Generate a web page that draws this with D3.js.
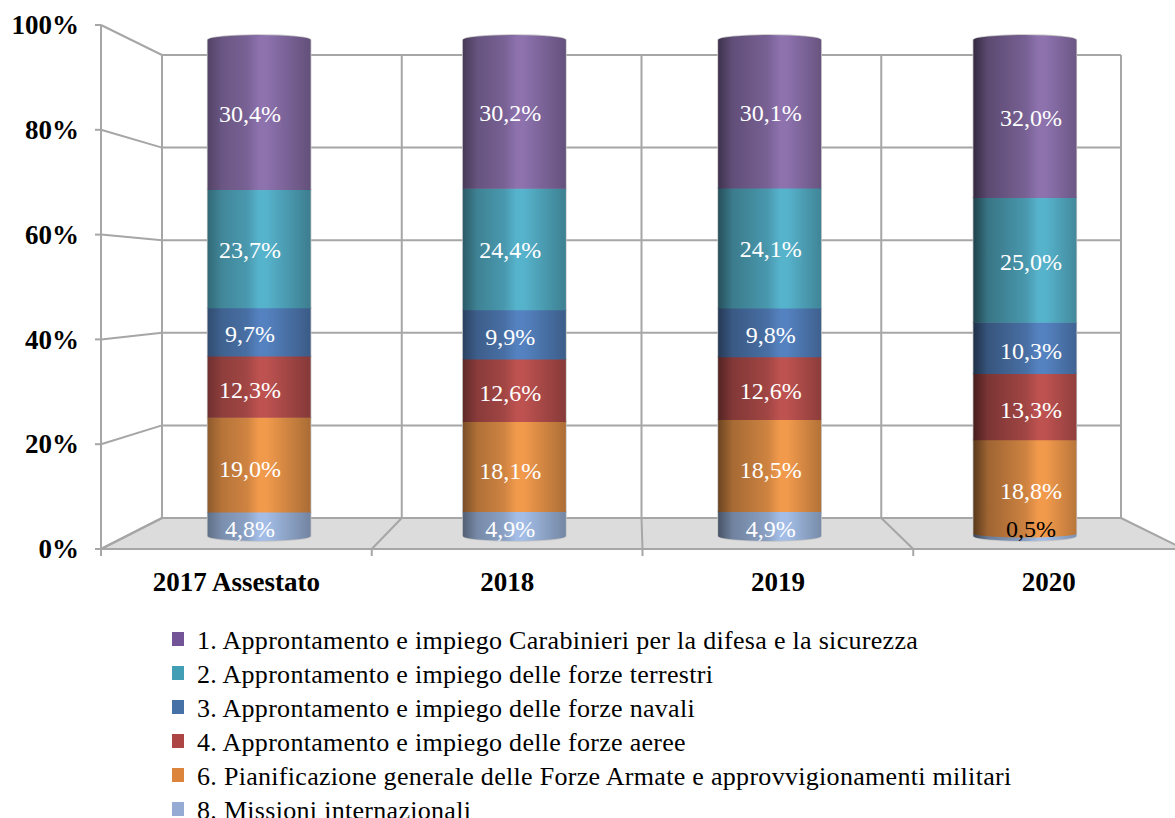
<!DOCTYPE html>
<html><head><meta charset="utf-8">
<script src="https://cdn.jsdelivr.net/npm/d3@7/dist/d3.min.js"></script>
<style>html,body{margin:0;padding:0;background:#fff;overflow:hidden}svg{display:block}text{font-family:"Liberation Serif",serif}</style>
</head><body><svg id="c" width="1175" height="818"></svg>
<script>
const categories = ["2017 Assestato","2018","2019","2020"];
const seriesNames = [
 "8. Missioni internazionali",
 "6. Pianificazione generale delle Forze Armate e approvvigionamenti militari",
 "4. Approntamento e impiego delle forze aeree",
 "3. Approntamento e impiego delle forze navali",
 "2. Approntamento e impiego delle forze terrestri",
 "1. Approntamento e impiego Carabinieri per la difesa e la sicurezza"];
const missioni = [4.8,4.9,4.9,0.5];
const pianificazione = [19.0,18.1,18.5,18.8];
const aeree = [12.3,12.6,12.6,13.3];
const navali = [9.7,9.9,9.8,10.3];
const terrestri = [23.7,24.4,24.1,25.0];
const carabinieri = [30.4,30.2,30.1,32.0];
const seriesValues = [missioni,pianificazione,aeree,navali,terrestri,carabinieri];
const seriesColors = ["#a3bde6","#f29a4c","#bd5250","#5482c0","#56b3cc","#8d72ae"];
const legendColors = ["#95abd3","#dd843c","#ac4543","#4571a7","#429eb4","#735497"];
const yTicks = [0,.2,.4,.6,.8,1];

const svg = d3.select("#c");
const yFront = d3.scaleLinear().domain([0,1]).range([549,25]);
const yBack = d3.scaleLinear().domain([0,1]).range([518,55]);
const yBar = d3.scaleLinear().domain([0,1]).range([536,38]);
const yLabel = d3.scaleLinear().domain([0,1]).range([541,37]);
const xFront = d3.scaleBand().domain(categories).range([101,1184]);
const xBack = d3.scaleBand().domain(categories).range([162,1121]);
const barCx = c => (xFront(c)+xFront.bandwidth()/2 + xBack(c)+xBack.bandwidth()/2)/2;
const barW = 103;
const grid = "#a6a6a6";
const comma = d3.formatLocale({decimal:",",thousands:".",grouping:[3],currency:["","€"]});
const fPct = v => comma.format(".1f")(v)+"%";
const fTick = comma.format(".0%");

const rows = categories.map((c,i)=>{const o={cat:c};seriesNames.forEach((s,j)=>o[s]=seriesValues[j][i]);return o;});
const stacked = d3.stack().keys(seriesNames).offset(d3.stackOffsetExpand)(rows);

// floor
const floor = [[xFront.range()[0],yFront(0)],[xBack.range()[0],yBack(0)],[xBack.range()[1],yBack(0)],[xFront.range()[1],yFront(0)]];
svg.append("polygon").attr("points",floor.join(" ")).attr("fill","#dcdcdc");

const g = svg.append("g").attr("stroke",grid).attr("stroke-width",2).attr("fill","none");
yTicks.forEach(t=>{
  g.append("line").attr("x1",xBack.range()[0]).attr("x2",xBack.range()[1]).attr("y1",yBack(t)).attr("y2",yBack(t));
  g.append("line").attr("x1",xFront.range()[0]).attr("x2",xBack.range()[0]).attr("y1",yFront(t)).attr("y2",yBack(t));
  g.append("line").attr("x1",xFront.range()[0]-6).attr("x2",xFront.range()[0]).attr("y1",yFront(t)).attr("y2",yFront(t));
});
const edges = categories.map(c=>[xFront(c),xBack(c)]).concat([[xFront.range()[1],xBack.range()[1]]]);
edges.forEach(([f,b],i)=>{
  g.append("line").attr("x1",b).attr("x2",b).attr("y1",yBack(1)).attr("y2",yBack(0));
  g.append("line").attr("x1",f).attr("x2",b).attr("y1",yFront(0)).attr("y2",yBack(0));
  if(i<edges.length-1) g.append("line").attr("x1",f).attr("x2",f).attr("y1",yFront(0)).attr("y2",yFront(0)+7);
});
g.append("line").attr("x1",xFront.range()[0]).attr("x2",xFront.range()[0]).attr("y1",yFront(1)).attr("y2",yFront(0));
g.append("line").attr("x1",xFront.range()[0]).attr("x2",xFront.range()[1]).attr("y1",yFront(0)).attr("y2",yFront(0));

// gradients: the cylinders are lit from a point that shifts across the chart
const defs = svg.append("defs");
const leftDark = [1.5,1.9,2.3,2.8];
const midDark = [.8,.9,1.05,1.2];
const rightDark = [1.0,.95,.85,.75];
const lightAt = [.5,.52,.6,.63];
stacked.forEach((s,j)=>categories.forEach((c,i)=>{
  const col = d3.color(seriesColors[j]);
  const gr = defs.append("linearGradient").attr("id",`g${j}_${i}`);
  gr.append("stop").attr("offset",0).attr("stop-color",col.darker(leftDark[i]));
  gr.append("stop").attr("offset",.14).attr("stop-color",col.darker(midDark[i]));
  gr.append("stop").attr("offset",lightAt[i]-.12).attr("stop-color",col.darker(.45));
  gr.append("stop").attr("offset",lightAt[i]).attr("stop-color",col);
  gr.append("stop").attr("offset",lightAt[i]+.07).attr("stop-color",col);
  gr.append("stop").attr("offset",1).attr("stop-color",col.darker(rightDark[i]));
}));

// cylinders: a segment sitting on a very thin one keeps the round base of the stack
const last = stacked.length-1, ry = 5, thin = 0.01;
const cyl = (d,j) => {
  const c=barCx(d.data.cat),l=c-barW/2,r=c+barW/2,y0=yBar(d[0]),y1=yBar(d[1]);
  const round = j===0 || d[0]<thin;
  const top = j===last ? `M${l},${y1+2}A${barW/2},${ry} 0 0 1 ${r},${y1+2}` : `M${l},${y1}L${r},${y1}`;
  const bot = round ? `L${r},${y0}A${barW/2},${ry-(j===0?0:1)} 0 0 1 ${l},${y0}` : `L${r},${y0+.5}L${l},${y0+.5}`;
  return top+bot+"Z";
};
const halo = svg.append("g").attr("fill","none").attr("stroke","#c4c4c4").attr("stroke-width",1.5);
const seg = svg.append("g");
stacked.forEach((s,j)=>{
  halo.selectAll(null).data(s).join("path").attr("d",d=>cyl(d,j));
  seg.selectAll(null).data(s).join("path")
   .attr("fill",(d,i)=>`url(#g${j}_${i})`)
   .attr("d",d=>cyl(d,j));
});

// value labels
const xLabel = d3.scalePoint().domain(categories).range([250,1031]);
const lab = svg.append("g").attr("text-anchor","middle").attr("font-size",24);
stacked.forEach(s=>{
  lab.selectAll(null).data(s).join("text")
   .attr("x",d=>xLabel(d.data.cat))
   .attr("y",d=>Math.min(yLabel((d[0]+d[1])/2),yLabel(0.023))+8)
   .attr("fill",d=>d.data[s.key]<1?"#000":"#fff")
   .text(d=>fPct(d.data[s.key]));
});

// axes
const yAxis = d3.axisLeft(yFront).tickValues(yTicks).tickFormat(fTick).tickSize(0).tickPadding(22);
const ya = svg.append("g").attr("transform",`translate(${xFront.range()[0]},0)`).call(yAxis);
ya.select(".domain").remove();
ya.selectAll("text").attr("font-family","Liberation Serif").attr("font-size",27).attr("font-weight","bold").attr("fill","#000");
const xAxis = d3.axisBottom(xFront).tickSize(0).tickPadding(23);
const xa = svg.append("g").attr("transform",`translate(0,${yFront(0)})`).call(xAxis);
xa.select(".domain").remove();
xa.selectAll("text").attr("font-family","Liberation Serif").attr("font-size",27).attr("font-weight","bold").attr("fill","#000");

// legend
const legendY = d3.scalePoint().domain(d3.range(6)).range([639,809]);
const order = d3.range(5,-1,-1);
const leg = svg.append("g");
order.forEach((j,k)=>{
  leg.append("rect").attr("x",172).attr("y",legendY(k)-7).attr("width",12).attr("height",14).attr("fill",legendColors[j]);
  leg.append("text").attr("x",197).attr("y",legendY(k)+10).attr("font-size",26).attr("letter-spacing",.3).attr("fill","#000").text(seriesNames[j]);
});
</script></body></html>
